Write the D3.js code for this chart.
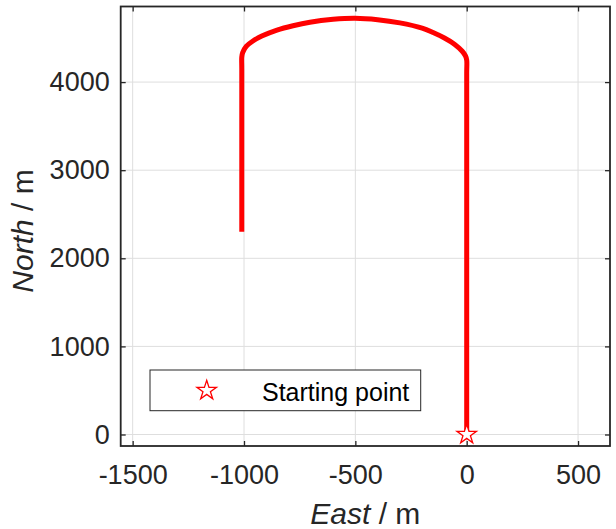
<!DOCTYPE html>
<html>
<head>
<meta charset="utf-8">
<script src="https://cdn.jsdelivr.net/npm/d3@7"></script>
<style>
  body { margin: 0; background: #fff; }
  svg { display: block; }
  text { font-family: "Liberation Sans", Arial, sans-serif; fill: #262626; }
</style>
</head>
<body>
<div id="chart"></div>
<script>
"use strict";

// trajectory (metres)
let eastPath  = [0, 0, 0, -5, -20, -55, -100, -151, -200, -300, -400, -502, -600, -704, -780, -852, -920, -960, -990, -1006, -1010, -1010, -1010];
let northPath = [0, 4100, 4250, 4295, 4350, 4430, 4500, 4562, 4612, 4672, 4708, 4724, 4712, 4680, 4640, 4590, 4522, 4466, 4405, 4335, 4285, 4150, 2300];

let startEast = [0];
let startNorth = [0];

let xTicks = [-1500, -1000, -500, 0, 500];
let yTicks = [0, 1000, 2000, 3000, 4000];

let legendLabels = ["Starting point"];

var width = 616,
    height = 529,
    margin = {top: 6.5, right: 6, bottom: 83, left: 120.7};

var axisColor = "#262626",
    gridColor = "#dedede";

var svg = d3.select('#chart').append('svg')
  .attr('width', width)
  .attr('height', height);

var xScale = d3.scaleLinear()
  .domain([-1553.7, 643.5])
  .range([margin.left, width - margin.right]);

var yScale = d3.scaleLinear()
  .domain([-130.5, 4858])
  .range([height - margin.bottom, margin.top]);

var x0 = xScale.range()[0], x1 = xScale.range()[1];
var y0 = yScale.range()[0], y1 = yScale.range()[1];

// grid
svg.append('g').selectAll('line').data(xTicks)
  .enter().append('line')
    .attr('x1', d => xScale(d)).attr('x2', d => xScale(d))
    .attr('y1', y0).attr('y2', y1)
    .style('stroke', gridColor).style('stroke-width', 1);

svg.append('g').selectAll('line').data(yTicks)
  .enter().append('line')
    .attr('y1', d => yScale(d)).attr('y2', d => yScale(d))
    .attr('x1', x0).attr('x2', x1)
    .style('stroke', gridColor).style('stroke-width', 1);

// path
var line = d3.line()
  .x(function(d, i) { return xScale(eastPath[i]); })
  .y(function(d, i) { return yScale(northPath[i]); })
  .curve(d3.curveCatmullRom.alpha(0.5));

svg.append('path')
  .datum(eastPath)
  .attr('d', line)
  .style('fill', 'none')
  .style('stroke', '#ff0000')
  .style('stroke-width', 5)
  .style('stroke-linejoin', 'round');

var star = d3.symbol().type(d3.symbolStar).size(118);

svg.append('g').selectAll('path').data(startEast)
  .enter().append('path')
    .attr('d', star)
    .attr('transform', (d, i) => `translate(${xScale(d)},${yScale(startNorth[i])})`)
    .style('fill', '#fff')
    .style('stroke', '#ff0000')
    .style('stroke-width', 1.3);

// axes, ticks pointing inward like matlab
var fontTick = 27;

var gx = svg.append('g')
  .attr('transform', `translate(0,${y0})`)
  .call(d3.axisBottom(xScale).tickValues(xTicks).tickSize(-5).tickPadding(19).tickFormat(d3.format('d')));

var gxTop = svg.append('g')
  .attr('transform', `translate(0,${y1})`)
  .call(d3.axisTop(xScale).tickValues(xTicks).tickSize(-5).tickFormat(''));

var gy = svg.append('g')
  .attr('transform', `translate(${x0},0)`)
  .call(d3.axisLeft(yScale).tickValues(yTicks).tickSize(-5).tickPadding(11).tickFormat(d3.format('d')));

var gyRight = svg.append('g')
  .attr('transform', `translate(${x1},0)`)
  .call(d3.axisRight(yScale).tickValues(yTicks).tickSize(-5).tickFormat(''));

[gx, gxTop, gy, gyRight].forEach(function(g) {
  g.select('.domain').remove();
  g.selectAll('.tick line').style('stroke', axisColor).style('stroke-width', 1.3);
  g.selectAll('.tick text')
    .style('font-size', fontTick + 'px')
    .style('font-family', '"Liberation Sans", Arial, sans-serif')
    .style('fill', axisColor);
});

// minus sign like matlab
gx.selectAll('.tick text').text(d => d < 0 ? '-' + Math.abs(d) : d);

svg.append('rect')
  .attr('x', x0).attr('y', y1)
  .attr('width', x1 - x0).attr('height', y0 - y1)
  .style('fill', 'none')
  .style('stroke', axisColor)
  .style('stroke-width', 1.8);

// axis labels
var xLabel = svg.append('text')
  .attr('x', (x0 + x1) / 2)
  .attr('y', 524)
  .attr('text-anchor', 'middle')
  .style('font-size', '30px');
xLabel.append('tspan').style('font-style', 'italic').text('East');
xLabel.append('tspan').text(' / m');

var yLabel = svg.append('text')
  .attr('transform', 'translate(33,231) rotate(-90)')
  .attr('text-anchor', 'middle')
  .style('font-size', '30px');
yLabel.append('tspan').style('font-style', 'italic').text('North');
yLabel.append('tspan').text(' / m');

// legend
var legend = svg.append('g');

legend.append('rect')
  .attr('x', 150).attr('y', 370)
  .attr('width', 270.7).attr('height', 40.7)
  .style('fill', '#fff')
  .style('stroke', axisColor)
  .style('stroke-width', 1);

legend.append('path')
  .attr('d', star)
  .attr('transform', 'translate(206.7,390.5)')
  .style('fill', '#fff')
  .style('stroke', '#ff0000')
  .style('stroke-width', 1.3);

legend.append('text')
  .attr('x', 262)
  .attr('y', 400.5)
  .style('font-size', '25px')
  .style('fill', '#000')
  .text(legendLabels[0]);
</script>
</body>
</html>
